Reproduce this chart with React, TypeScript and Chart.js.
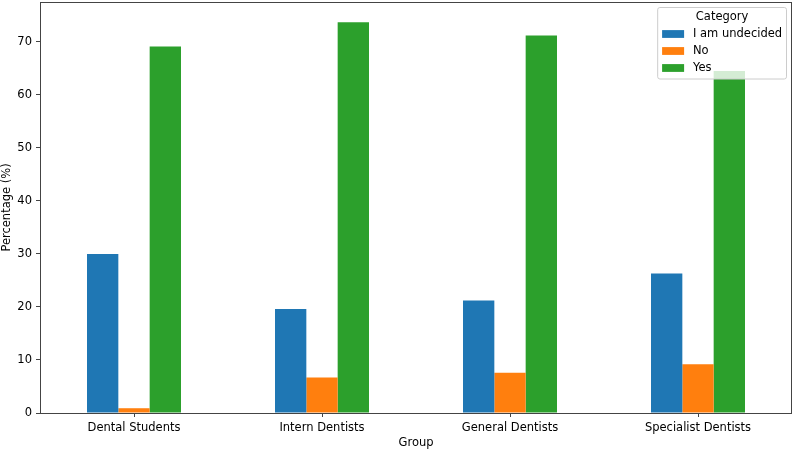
import React, { useEffect, useRef } from "react";
import { Chart, registerables } from "chart.js";

Chart.register(...registerables);

const GROUPS = ["Dental Students", "Intern Dentists", "General Dentists", "Specialist Dentists"];
const SERIES_NAMES = ["I am undecided", "No", "Yes"];
const UNDECIDED = [30.0, 19.6, 21.2, 26.3];
const NO = [0.9, 6.7, 7.6, 9.2];
const YES = [69.1, 73.7, 71.2, 64.5];
const COLORS = ["#1f77b4", "#ff7f0e", "#2ca02c"];
const Y_TICKS = [0, 10, 20, 30, 40, 50, 60, 70];
const Y_MAX = 77.5;
const LEGEND_TITLE = "Category";
const FONT = "'DejaVu Sans', sans-serif";
const FS = 11.5;

const frameAndLegend = {
  id: "frameAndLegend",
  afterDraw(chart: any) {
    const { ctx, chartArea } = chart;
    ctx.save();
    // frame
    ctx.strokeStyle = "#444";
    ctx.lineWidth = 1;
    ctx.strokeRect(
      Math.round(chartArea.left) + 0.5,
      Math.round(chartArea.top) + 0.5,
      Math.round(chartArea.right - chartArea.left) - 1,
      Math.round(chartArea.bottom - chartArea.top)
    );
    // legend
    ctx.font = `${FS}px ${FONT}`;
    const labels = chart.data.datasets.map((d: any) => d.label);
    const maxW = Math.max(...labels.map((l: string) => ctx.measureText(l).width));
    const pad = 4.4;
    const handle = 22;
    const hpad = 8.9;
    const w = pad + handle + hpad + maxW + pad;
    const h = 71.5;
    const right = chartArea.right - 5.5;
    const top = chartArea.top + 5.5;
    const left = right - w;
    const r = 2.2;
    ctx.beginPath();
    ctx.moveTo(left + r, top);
    ctx.lineTo(right - r, top);
    ctx.quadraticCurveTo(right, top, right, top + r);
    ctx.lineTo(right, top + h - r);
    ctx.quadraticCurveTo(right, top + h, right - r, top + h);
    ctx.lineTo(left + r, top + h);
    ctx.quadraticCurveTo(left, top + h, left, top + h - r);
    ctx.lineTo(left, top + r);
    ctx.quadraticCurveTo(left, top, left + r, top);
    ctx.closePath();
    ctx.fillStyle = "rgba(255,255,255,0.8)";
    ctx.fill();
    ctx.strokeStyle = "#cccccc";
    ctx.lineWidth = 1;
    ctx.stroke();
    ctx.fillStyle = "#000";
    ctx.textBaseline = "middle";
    ctx.textAlign = "center";
    ctx.fillText(LEGEND_TITLE, (left + right) / 2, top + 10);
    ctx.textAlign = "left";
    chart.data.datasets.forEach((d: any, i: number) => {
      const cy = top + 26.5 + i * 17;
      ctx.fillStyle = d.backgroundColor;
      ctx.fillRect(left + pad, cy - 3.9, handle, 7.8);
      ctx.fillStyle = "#000";
      ctx.fillText(d.label, left + pad + handle + hpad, cy);
    });
    ctx.restore();
  },
};

export default function App() {
  const ref = useRef<HTMLCanvasElement>(null);
  useEffect(() => {
    document.body.style.margin = "0";
    const values = [UNDECIDED, NO, YES];
    const chart = new Chart(ref.current!, {
      type: "bar",
      data: {
        labels: GROUPS,
        datasets: SERIES_NAMES.map((name, i) => ({
          label: name,
          data: values[i],
          backgroundColor: COLORS[i],
          borderWidth: 0,
          barPercentage: 1,
          categoryPercentage: 0.5,
        })),
      },
      options: {
        animation: false,
        responsive: true,
        maintainAspectRatio: false,
        layout: { padding: { left: 0, right: 2, top: 2, bottom: 0 } },
        plugins: { legend: { display: false }, tooltip: { enabled: false } },
        scales: {
          x: {
            grid: { display: true, offset: false, drawOnChartArea: false, drawTicks: true, tickLength: 4, color: "#444" },
            border: { display: false },
            ticks: { color: "#000", font: { family: FONT, size: FS }, padding: 4, maxRotation: 0 },
            title: { display: true, text: "Group", color: "#000", font: { family: FONT, size: FS }, padding: 0 },
            afterFit: (s: any) => {
              s.height = 37;
              s.paddingLeft = 0;
              s.paddingRight = 0;
            },
          },
          y: {
            min: 0,
            max: Y_MAX,
            grid: { display: true, drawOnChartArea: false, drawTicks: true, tickLength: 4, color: "#444" },
            border: { display: false },
            ticks: { color: "#000", font: { family: FONT, size: FS }, padding: 4 },
            afterBuildTicks: (s: any) => { s.ticks = Y_TICKS.map((v) => ({ value: v })); },
            title: { display: true, text: "Percentage (%)", color: "#000", font: { family: FONT, size: FS }, padding: 0 },
            afterFit: (s: any) => {
              s.width = 40;
              s.paddingTop = 0;
              s.paddingBottom = 0;
            },
          },
        },
      },
      plugins: [frameAndLegend],
    });
    return () => chart.destroy();
  }, []);
  return (
    <div style={{ width: 794, height: 450, position: "relative" }}>
      <canvas ref={ref} />
    </div>
  );
}
